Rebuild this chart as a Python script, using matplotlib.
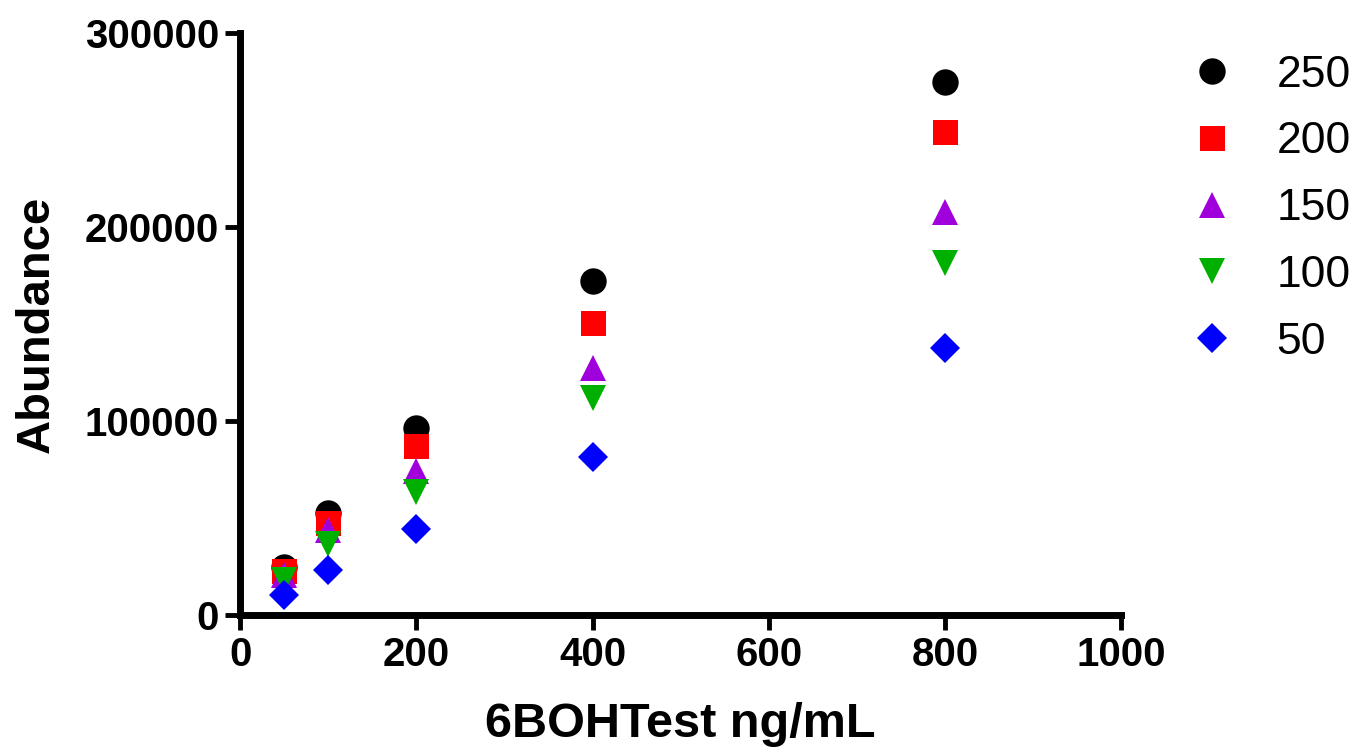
import numpy as np
import matplotlib
matplotlib.use('Agg')
import matplotlib.pyplot as plt

# 6BOHTest concentration (ng/mL)
conc = [50, 100, 200, 400, 800]

# abundance for each internal standard level
series_labels = ['250', '200', '150', '100', '50']
ab_250 = [24700, 52600, 96400, 172200, 274700]
ab_200 = [22700, 47400, 87100, 150500, 249000]
ab_150 = [20600, 43800, 74200, 127300, 207700]
ab_100 = [18000, 36600, 63400, 111900, 181400]
ab_50 = [10300, 23200, 44300, 81400, 137600]

series = [ab_250, ab_200, ab_150, ab_100, ab_50]
markers = ['o', 's', '^', 'v', 'D']
colors = ['black', '#ff0000', '#a000dc', '#00b000', '#0000ff']
sizes = [19, 18, 19, 19, 15]

plt.rcParams['font.family'] = ['Liberation Sans', 'DejaVu Sans']

fig = plt.figure(figsize=(13.64, 7.53), dpi=100)
ax = fig.add_axes([0.176, 0.183, 0.646, 0.773])

for vals, lab, mk, c, ms in zip(series, series_labels, markers, colors, sizes):
    ax.plot(conc, vals, linestyle='none', marker=mk, color=c, markersize=ms,
            markeredgewidth=0, label=lab, clip_on=False)

ax.set_xlim(0, 1000)
ax.set_ylim(0, 300000)
ax.set_xticks([0, 200, 400, 600, 800, 1000])
ax.set_yticks([0, 100000, 200000, 300000])

for side in ['top', 'right']:
    ax.spines[side].set_visible(False)
for side in ['left', 'bottom']:
    ax.spines[side].set_linewidth(5)

ax.tick_params(axis='both', length=11, width=3.5, labelsize=29, pad=4)
for lbl in ax.get_xticklabels() + ax.get_yticklabels():
    lbl.set_fontweight('bold')

ax.set_xlabel('6BOHTest ng/mL', fontsize=35, fontweight='bold', labelpad=20)
ax.set_ylabel('Abundance', fontsize=34, fontweight='bold', labelpad=19)

leg = ax.legend(loc='upper left', bbox_to_anchor=(0.859, 0.951),
                bbox_transform=fig.transFigure, frameon=False,
                fontsize=32, handletextpad=0.96, labelspacing=0.58,
                handlelength=1.0, borderaxespad=0)

fig.savefig('out.png', dpi=100)
